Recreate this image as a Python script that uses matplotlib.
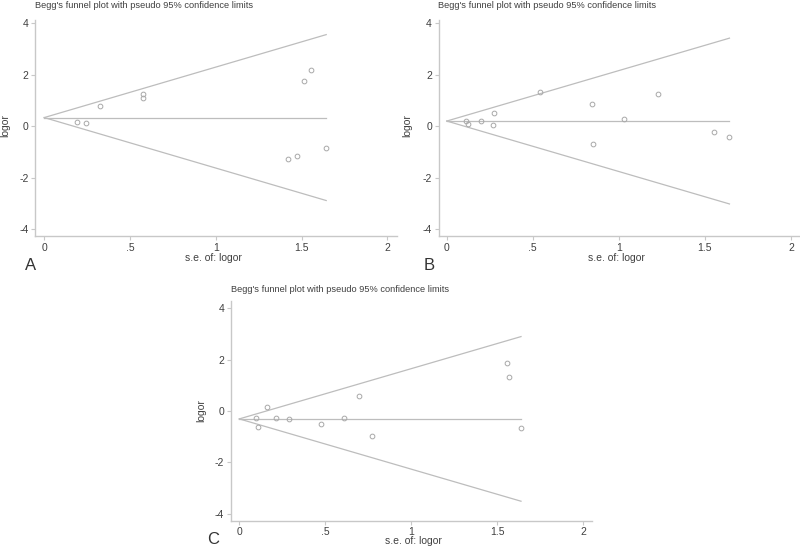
import matplotlib
matplotlib.use("Agg")
import matplotlib.pyplot as plt

plt.rcParams['font.family'] = ['Liberation Sans', 'DejaVu Sans']

# ---- data ----
panel_labels = ["A", "B", "C"]
title_text = "Begg's funnel plot with pseudo 95% confidence limits"
xlabel_text = "s.e. of: logor"
ylabel_text = "logor"
xtick_vals = [0, 0.5, 1, 1.5, 2]
xtick_labels = ["0", ".5", "1", "1.5", "2"]
ytick_vals = [-4, -2, 0, 2, 4]
ytick_labels = ["-4", "-2", "0", "2", "4"]

# pooled log OR and maximum s.e. for each panel
pooled_A, semax_A = 0.33, 1.644
pooled_B, semax_B = 0.195, 1.643
pooled_C, semax_C = -0.31, 1.638

se_A = [0.192, 0.243, 0.328, 0.573, 0.573, 1.512, 1.556, 1.424, 1.475, 1.644]
lor_A = [0.156, 0.117, 0.78, 1.26, 1.09, 1.75, 2.17, -1.26, -1.18, -0.87]

se_B = [0.110, 0.124, 0.200, 0.269, 0.277, 0.541, 0.845, 0.849, 1.031, 1.225, 1.552, 1.641]
lor_B = [0.21, 0.065, 0.21, 0.05, 0.49, 1.32, 0.84, -0.69, 0.29, 1.25, -0.23, -0.42]

se_C = [0.097, 0.110, 0.161, 0.215, 0.291, 0.477, 0.607, 0.696, 0.769, 1.554, 1.566, 1.638]
lor_C = [-0.27, -0.62, 0.14, -0.28, -0.30, -0.49, -0.26, 0.57, -0.97, 1.88, 1.34, -0.68]

W, H = 800, 546
fig = plt.figure(figsize=(W / 100, H / 100), dpi=100)
fig.patch.set_facecolor("white")

def pos(l, r, t, b):
    return [l / W, 1 - b / H, (r - l) / W, (b - t) / H]

LINE = "#bdbdbd"
MK = "#a8a8a8"
SPINE = "#c8c8c8"
TXT = "#404040"

panels = [
    dict(lab="A", se=se_A, lor=lor_A, th=pooled_A, sm=semax_A,
         box=(35.3, 396.7, 20, 236), xlim=(-0.052, 2.055), ylim=(-4.27, 4.12),
         labpos=(31, 265), titley=5, xlab=(213, 258), ylab=(5, 126)),
    dict(lab="B", se=se_B, lor=lor_B, th=pooled_B, sm=semax_B,
         box=(438.5, 799.5, 20, 236), xlim=(-0.048, 2.05), ylim=(-4.27, 4.12),
         labpos=(429, 265), titley=5, xlab=(616, 258), ylab=(407, 126)),
    dict(lab="C", se=se_C, lor=lor_C, th=pooled_C, sm=semax_C,
         box=(230.7, 591.7, 300.7, 520.7), xlim=(-0.05, 2.049), ylim=(-4.28, 4.30),
         labpos=(213, 539), titley=289, xlab=(413, 541.5), ylab=(201, 411)),
]

for p in panels:
    l, r, t, b = p["box"]
    ax = fig.add_axes(pos(l, r, t, b))
    ax.set_xlim(*p["xlim"])
    ax.set_ylim(*p["ylim"])
    th, sm = p["th"], p["sm"]
    se_line = [0, sm]
    ax.plot(se_line, [th + 1.96 * s for s in se_line], color=LINE, lw=0.9)
    ax.plot(se_line, [th - 1.96 * s for s in se_line], color=LINE, lw=0.9)
    ax.plot(se_line, [th, th], color=LINE, lw=0.9)
    ax.plot(p["se"], p["lor"], linestyle="none", marker="o", markersize=3.4,
            markerfacecolor="none", markeredgecolor=MK, markeredgewidth=0.7)
    for s in ["top", "right"]:
        ax.spines[s].set_visible(False)
    for s in ["left", "bottom"]:
        ax.spines[s].set_color(SPINE)
        ax.spines[s].set_linewidth(1.0)
    ax.set_xticks(xtick_vals)
    ax.set_xticklabels(xtick_labels)
    ax.set_yticks(ytick_vals)
    ax.set_yticklabels(ytick_labels)
    ax.tick_params(axis="both", direction="out", length=3.2, width=0.8,
                   color=SPINE, labelcolor=TXT, labelsize=7.5, pad=1.5)
    xl, yl = p["xlab"]
    fig.text(xl / W, 1 - yl / H, xlabel_text, fontsize=7.5, color=TXT,
             ha="center", va="center")
    yx, yy = p["ylab"]
    fig.text(yx / W, 1 - yy / H, ylabel_text, fontsize=7.5, color=TXT,
             ha="center", va="center", rotation=90)
    fig.text(l / W, 1 - p["titley"] / H, title_text, fontsize=6.7, color=TXT,
             ha="left", va="center")
    lx, ly = p["labpos"]
    fig.text(lx / W, 1 - ly / H, p["lab"], fontsize=12, color="#333333",
             ha="center", va="center")

fig.savefig("out.png", dpi=100, facecolor="white")
